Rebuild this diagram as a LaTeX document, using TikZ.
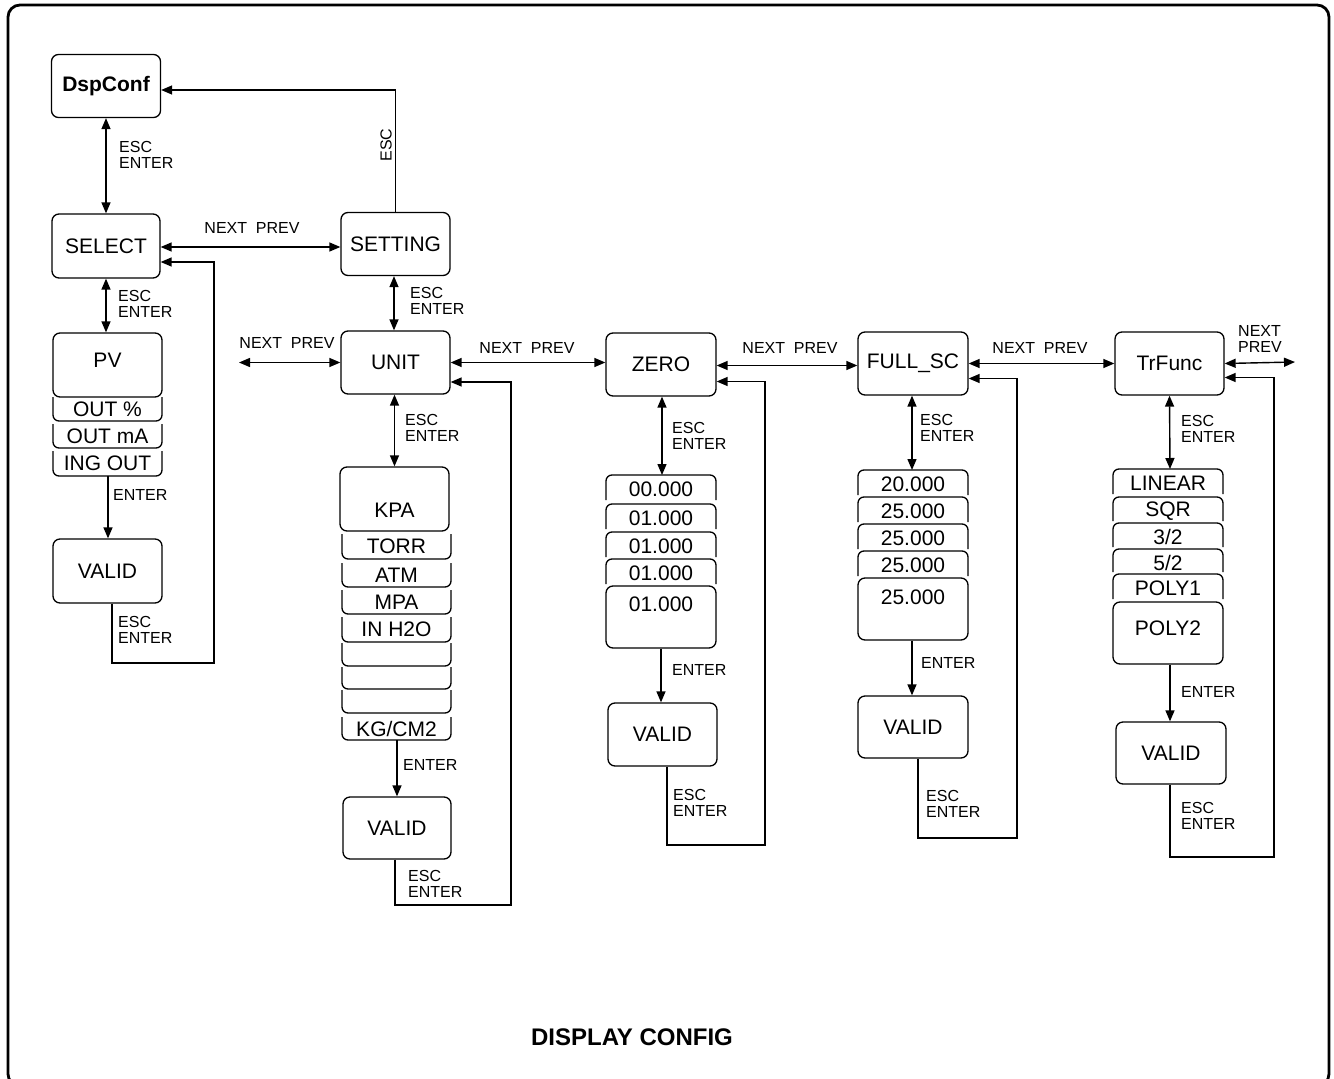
\documentclass[tikz,border=0pt]{standalone}
\usepackage{fontspec}
\setmainfont{Liberation Sans}
\usetikzlibrary{arrows.meta}
\begin{document}
\begin{tikzpicture}[x=1pt,y=-1pt,
  every node/.style={inner sep=0pt, font=\fontsize{21}{24}\selectfont},
  box/.style={draw, line width=1.3pt, rounded corners=7pt, minimum width=109pt, minimum height=63pt},
  strip/.style={draw, line width=1.3pt, rounded corners=6pt},
  lbl/.style={font=\fontsize{16}{16}\selectfont, align=left, anchor=west},
  con/.style={line width=1.4pt},
  arr/.style={con, -{Triangle[length=11pt,width=9pt]}},
  dbl/.style={con, {Triangle[length=11pt,width=9pt]}-{Triangle[length=11pt,width=9pt]}},
]
\useasboundingbox (0,0) rectangle (1334,1079);
\draw[line width=2.8pt, rounded corners=12pt] (8,5) rectangle (1329,1086);

% ---------- column 1 ----------
\node[box, font=\bfseries\fontsize{21}{24}\selectfont] (dsp) at (106,86) {DspConf};
\node[box, minimum width=108pt, minimum height=64pt] (sel) at (106,246) {SELECT};
\node[box, minimum height=64pt] (pv) at (107.5,365) {};
\node (pvt) at (107.5,360) {PV};
\draw[strip] (53,397) -- (53,421) -- (162,421) -- (162,397);
\node (s11) at (107.5,409) {OUT \%};
\draw[strip] (53,424) -- (53,448) -- (162,448) -- (162,424);
\node (s12) at (107.5,436) {OUT mA};
\draw[strip] (53,451) -- (53,476) -- (162,476) -- (162,451);
\node (s13) at (107.5,463) {ING OUT};
\coordinate (pvend) at (108,476);
\node[box, minimum height=64pt] (v1) at (107.5,571) {VALID};

% ---------- column 2 ----------
\node[box] (set) at (395.5,244) {SETTING};
\node[box] (unit) at (395.5,362.5) {UNIT};
\node[box, minimum height=64pt] (kpa) at (394.5,499) {};
\node (kpat) at (394.5,510) {KPA};
\draw[strip] (342,534) -- (342,559) -- (451,559) -- (451,534);
\node (s21) at (396.5,546.5) {TORR};
\draw[strip] (342,563) -- (342,587) -- (451,587) -- (451,563);
\node (s22) at (396.5,575) {ATM};
\draw[strip] (342,590) -- (342,614) -- (451,614) -- (451,590);
\node (s23) at (396.5,602) {MPA};
\draw[strip] (342,617) -- (342,642) -- (451,642) -- (451,617);
\node (s24) at (396.5,629.5) {IN H2O};
\draw[strip] (342,643) -- (342,666) -- (451,666) -- (451,643);
\draw[strip] (342,667) -- (342,689) -- (451,689) -- (451,667);
\draw[strip] (342,690) -- (342,713) -- (451,713) -- (451,690);
\draw[strip] (342,717) -- (342,740) -- (451,740) -- (451,717);
\node (s25) at (396.5,728.5) {KG/CM2};
\coordinate (kpaend) at (397,740);
\node[box, minimum width=108pt, minimum height=62pt] (v2) at (397,828) {VALID};

% ---------- column 3 ----------
\node[box, minimum width=110pt] (zero) at (661,364.5) {ZERO};
\draw[strip] (606,500) -- (606,475) -- (716,475) -- (716,500);
\node (s31) at (661,489) {00.000};
\draw[strip] (606,529) -- (606,504) -- (716,504) -- (716,529);
\node (s32) at (661,518) {01.000};
\draw[strip] (606,557) -- (606,532) -- (716,532) -- (716,557);
\node (s33) at (661,546) {01.000};
\draw[strip] (606,584) -- (606,559) -- (716,559) -- (716,584);
\node (s34) at (661,573) {01.000};
\coordinate (ztop) at (662,475);
\node[box, minimum width=110pt, minimum height=62pt] (z5) at (661,617) {};
\node (z5t) at (661,604) {01.000};
\node[box] (v3) at (662.5,734.5) {VALID};

% ---------- column 4 ----------
\node[box, minimum width=110pt] (fsc) at (913,363.5) {FULL\_SC};
\draw[strip] (858,495) -- (858,470) -- (968,470) -- (968,495);
\node (s41) at (913,484) {20.000};
\draw[strip] (858,522) -- (858,497) -- (968,497) -- (968,522);
\node (s42) at (913,511) {25.000};
\draw[strip] (858,549) -- (858,524) -- (968,524) -- (968,549);
\node (s43) at (913,538) {25.000};
\draw[strip] (858,576) -- (858,551) -- (968,551) -- (968,576);
\node (s44) at (913,565) {25.000};
\coordinate (ftop) at (912,470);
\node[box, minimum width=110pt, minimum height=62pt] (f5) at (913,609) {};
\node (f5t) at (913,597) {25.000};
\node[box, minimum width=110pt, minimum height=62pt] (v4) at (913,727) {VALID};

% ---------- column 5 ----------
\node[box] (trf) at (1169.5,363.5) {TrFunc};
\draw[strip] (1113,494) -- (1113,469) -- (1223,469) -- (1223,494);
\node (s51) at (1168,483) {LINEAR};
\draw[strip] (1113,521) -- (1113,497) -- (1223,497) -- (1223,521);
\node (s52) at (1168,511) {SQR};
\draw[strip] (1113,547) -- (1113,523) -- (1223,523) -- (1223,547);
\node (s53) at (1168,537) {3/2};
\draw[strip] (1113,572) -- (1113,549) -- (1223,549) -- (1223,572);
\node (s54) at (1168,563) {5/2};
\draw[strip] (1113,599) -- (1113,574) -- (1223,574) -- (1223,599);
\node (s55) at (1168,588) {POLY1};
\coordinate (ttop) at (1170,469);
\node[box, minimum width=110pt, minimum height=62pt] (p2) at (1168,633) {};
\node (p2t) at (1168,628) {POLY2};
\node[box, minimum width=110pt, minimum height=62pt] (v5) at (1171,753) {VALID};

% ---------- connectors ----------
\draw[dbl] (dsp.south) -- (sel.north);
\draw[arr] (set.north) |- ([yshift=-4pt]dsp.east);
\draw[dbl] ([yshift=-1pt]sel.east) -- ([yshift=-1pt]sel.east -| set.west);
\draw[dbl] (sel.south) -- (sel.south |- pv.north);
\draw[arr] (pvend) -- (pvend |- v1.north);
\coordinate (l1) at (214,663);
\draw[arr] ([xshift=4.5pt]v1.south) |- (l1) |- ([yshift=-16pt]sel.east);

\draw[dbl] ([xshift=-1.5pt]set.south) -- ([xshift=-1.5pt]unit.north);
\coordinate (uL) at (239,362.5);
\draw[dbl] (uL) -- (uL -| unit.west);
\draw[dbl] ([xshift=-1pt]unit.south) -- ([xshift=-1pt]unit.south |- kpa.north);
\draw[arr] (kpaend) -- (kpaend |- v2.north);
\coordinate (l2) at (511,905);
\draw[arr] ([xshift=-2pt]v2.south) |- (l2) |- ([yshift=-19.5pt]unit.east);
\draw[dbl] (unit.east) -- (unit.east -| zero.west);

\draw[dbl] ([xshift=1pt]zero.south) -- (ztop);
\draw[arr] (z5.south) -- (z5.south |- v3.north);
\coordinate (l3) at (765,845);
\draw[arr] ([xshift=4.5pt]v3.south) |- (l3) |- ([yshift=-17pt]zero.east);
\draw[dbl] ([yshift=-1pt]zero.east) -- ([yshift=-1pt]zero.east -| fsc.west);

\draw[dbl] ([xshift=-1pt]fsc.south) -- (ftop);
\draw[arr] ([xshift=-1pt]f5.south) -- ([xshift=-1pt]f5.south |- v4.north);
\coordinate (l4) at (1017,838);
\draw[arr] ([xshift=5pt]v4.south) |- (l4) |- ([yshift=-15pt]fsc.east);
\draw[dbl] (fsc.east) -- (fsc.east -| trf.west);

\draw[dbl] (trf.south) -- (ttop);
\draw[arr] ([xshift=2pt]p2.south) -- ([xshift=2pt]p2.south |- v5.north);
\coordinate (l5) at (1274,857);
\draw[arr] ([xshift=-1pt]v5.south) |- (l5) |- ([yshift=-14pt]trf.east);
\coordinate (tR) at (1295,362);
\draw[dbl] (trf.east) -- (tR);

% ---------- labels ----------
\node[lbl] (a1) at (119,155) {ESC\\ENTER};
\node[lbl, anchor=center] (a2) at (252,228) {NEXT\hspace{0.55em}PREV};
\node[lbl, anchor=center, rotate=90] (a3) at (386,145) {ESC};
\node[lbl] (a4) at (118,303.5) {ESC\\ENTER};
\node[lbl] (a5) at (113,495) {ENTER};
\node[lbl] (a6) at (118,630) {ESC\\ENTER};
\node[lbl] (a7) at (410,301) {ESC\\ENTER};
\node[lbl, anchor=center] (a8) at (287,343) {NEXT\hspace{0.55em}PREV};
\node[lbl] (a9) at (405,427.5) {ESC\\ENTER};
\node[lbl] (a10) at (403,765) {ENTER};
\node[lbl] (a11) at (408,883.5) {ESC\\ENTER};
\node[lbl, anchor=center] (a12) at (527,348) {NEXT\hspace{0.55em}PREV};
\node[lbl] (a13) at (672,435.5) {ESC\\ENTER};
\node[lbl] (a14) at (672,670) {ENTER};
\node[lbl] (a15) at (673,803) {ESC\\ENTER};
\node[lbl, anchor=center] (a16) at (790,348) {NEXT\hspace{0.55em}PREV};
\node[lbl] (a17) at (920,428) {ESC\\ENTER};
\node[lbl] (a18) at (921,663) {ENTER};
\node[lbl] (a19) at (926,804) {ESC\\ENTER};
\node[lbl, anchor=center] (a20) at (1040,348) {NEXT\hspace{0.55em}PREV};
\node[lbl] (a21) at (1181,429) {ESC\\ENTER};
\node[lbl] (a22) at (1181,692) {ENTER};
\node[lbl] (a23) at (1181,816) {ESC\\ENTER};
\node[lbl] (a24) at (1238,338.5) {NEXT\\PREV};
\node[font=\bfseries\fontsize{24}{27}\selectfont] (title) at (632,1037) {DISPLAY CONFIG};
\end{tikzpicture}
\end{document}
